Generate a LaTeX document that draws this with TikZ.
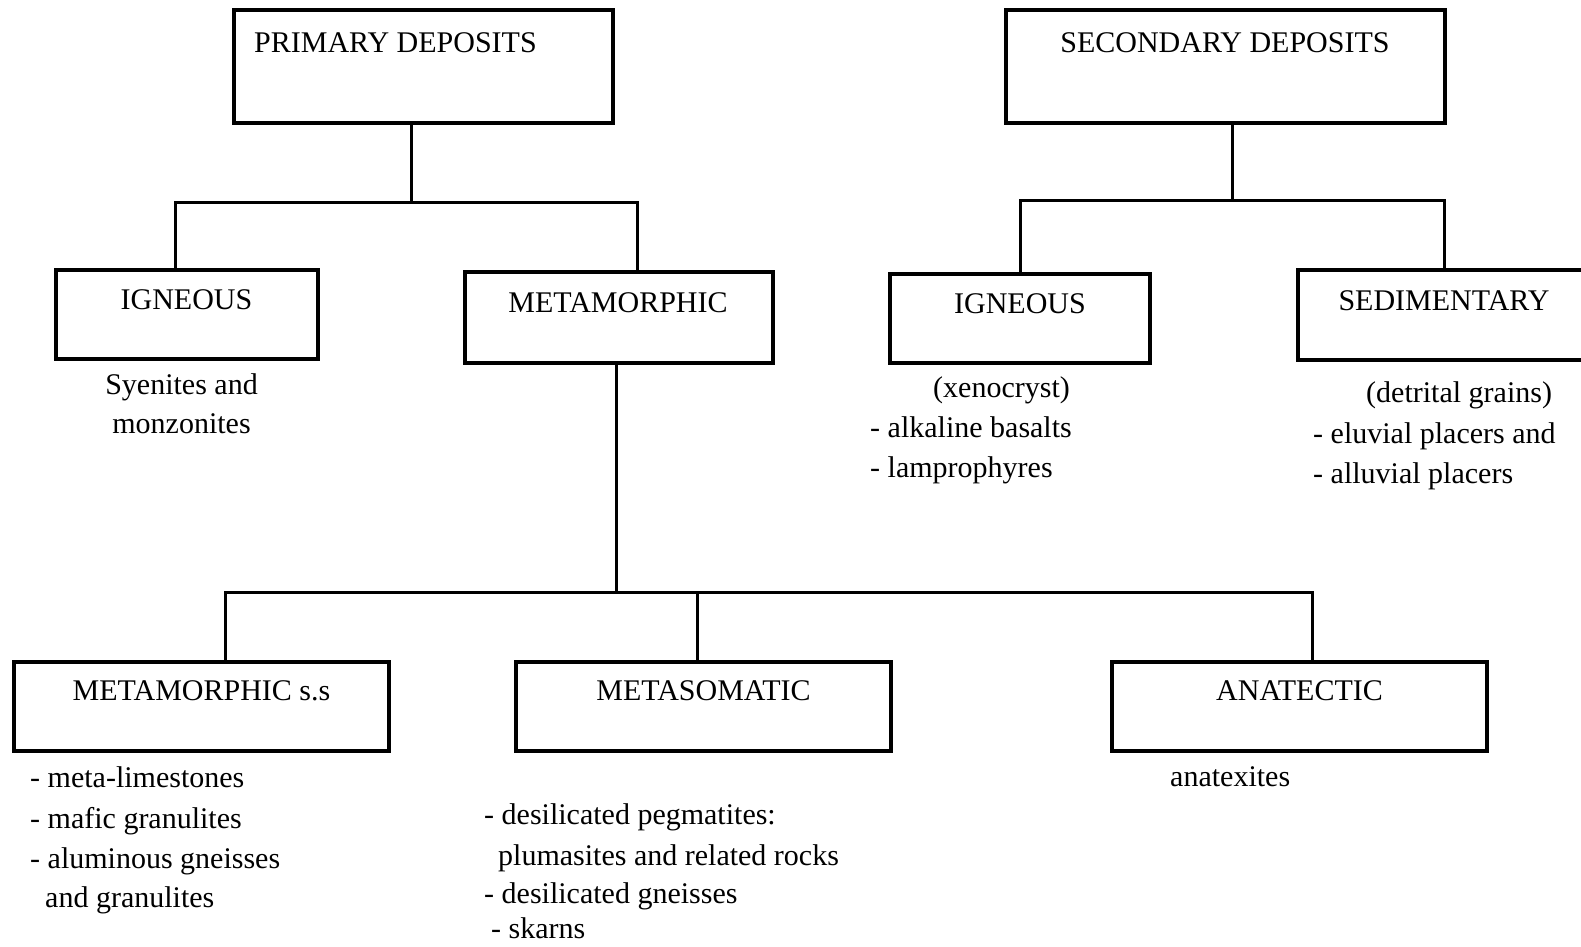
\documentclass[tikz,border=0pt]{standalone}
\usepackage{fontspec}
\setmainfont{Liberation Serif}
\begin{document}
\begin{tikzpicture}[x=1pt,y=-1pt,
  box/.style={draw,line width=3.6pt,rectangle,inner sep=0pt,minimum width=#1},
  conn/.style={line width=3pt},
  lbl/.style={inner sep=0pt,anchor=base},
  txt/.style={inner sep=0pt,anchor=base west},
  font=\fontsize{30}{36}\selectfont]
\useasboundingbox (0,0) rectangle (1581,946);
% boxes
\node[box=379pt,minimum height=113pt] (prim) at (423.5,66.5) {};
\node[box=439pt,minimum height=113pt] (sec) at (1225.5,66.5) {};
\node[box=262pt,minimum height=89pt] (ign1) at (187,314.5) {};
\node[box=308pt,minimum height=91pt] (meta) at (619,317.5) {};
\node[box=260pt,minimum height=89pt] (ign2) at (1020,318.5) {};
\node[box=294pt,minimum height=90pt] (sed) at (1445,315) {};
\node[box=375pt,minimum height=89pt] (mss) at (201.5,706.5) {};
\node[box=375pt,minimum height=89pt] (mso) at (703.5,706.5) {};
\node[box=375pt,minimum height=89pt] (ana) at (1299.5,706.5) {};
% box labels
\node[txt] (tprim) at (254,52) {PRIMARY DEPOSITS};
\node[lbl] (tsec) at (1225,52) {SECONDARY DEPOSITS};
\node[lbl] (tign1) at (186.5,309) {IGNEOUS};
\node[lbl] (tmeta) at (618,312) {METAMORPHIC};
\node[lbl] (tign2) at (1020,313) {IGNEOUS};
\node[lbl] (tsed) at (1444,310) {SEDIMENTARY};
\node[lbl] (tmss) at (201.5,700) {METAMORPHIC s.s};
\node[lbl] (tmso) at (703.5,700) {METASOMATIC};
\node[lbl] (tana) at (1299.5,700) {ANATECTIC};
% descriptions
\node[lbl] (d1a) at (181.5,394) {Syenites and};
\node[lbl] (d1b) at (181.5,433) {monzonites};
\node[txt] (d2a) at (933,397) {(xenocryst)};
\node[txt] (d2b) at (870,437) {- alkaline basalts};
\node[txt] (d2c) at (870,477) {- lamprophyres};
\node[txt] (d3a) at (1366,402) {(detrital grains)};
\node[txt] (d3b) at (1313,443) {- eluvial placers and};
\node[txt] (d3c) at (1313,483) {- alluvial placers};
\node[txt] (d4a) at (30,787) {- meta-limestones};
\node[txt] (d4b) at (30,828) {- mafic granulites};
\node[txt] (d4c) at (30,868) {- aluminous gneisses};
\node[txt] (d4d) at (45,907) {and granulites};
\node[txt] (d5a) at (484,824) {- desilicated pegmatites:};
\node[txt] (d5b) at (498,865) {plumasites and related rocks};
\node[txt] (d5c) at (484,903) {- desilicated gneisses};
\node[txt] (d5d) at (491,938) {- skarns};
\node[txt] (d6a) at (1170,786) {anatexites};
% junction coordinates
\coordinate (jp) at (411,202);
\coordinate (jpl) at (175,202);
\coordinate (jpr) at (637,202);
\coordinate (js) at (1232,200);
\coordinate (jsl) at (1020,200);
\coordinate (jsr) at (1444,200);
\coordinate (jm) at (616,592);
\coordinate (jml) at (225,592);
\coordinate (jmm) at (697,592);
\coordinate (jmr) at (1312,592);
% connectors
\draw[conn] (prim.south -| jp) -- (jp);
\draw[conn] (ign1.north -| jpl) -- (jpl) -- (jpr) -- (meta.north -| jpr);
\draw[conn] (sec.south -| js) -- (js);
\draw[conn] (ign2.north -| jsl) -- (jsl) -- (jsr) -- (sed.north -| jsr);
\draw[conn] (meta.south -| jm) -- (jm);
\draw[conn] (mss.north -| jml) -- (jml) -- (jmr) -- (ana.north -| jmr);
\draw[conn] (jmm) -- (mso.north -| jmm);
\end{tikzpicture}
\end{document}
